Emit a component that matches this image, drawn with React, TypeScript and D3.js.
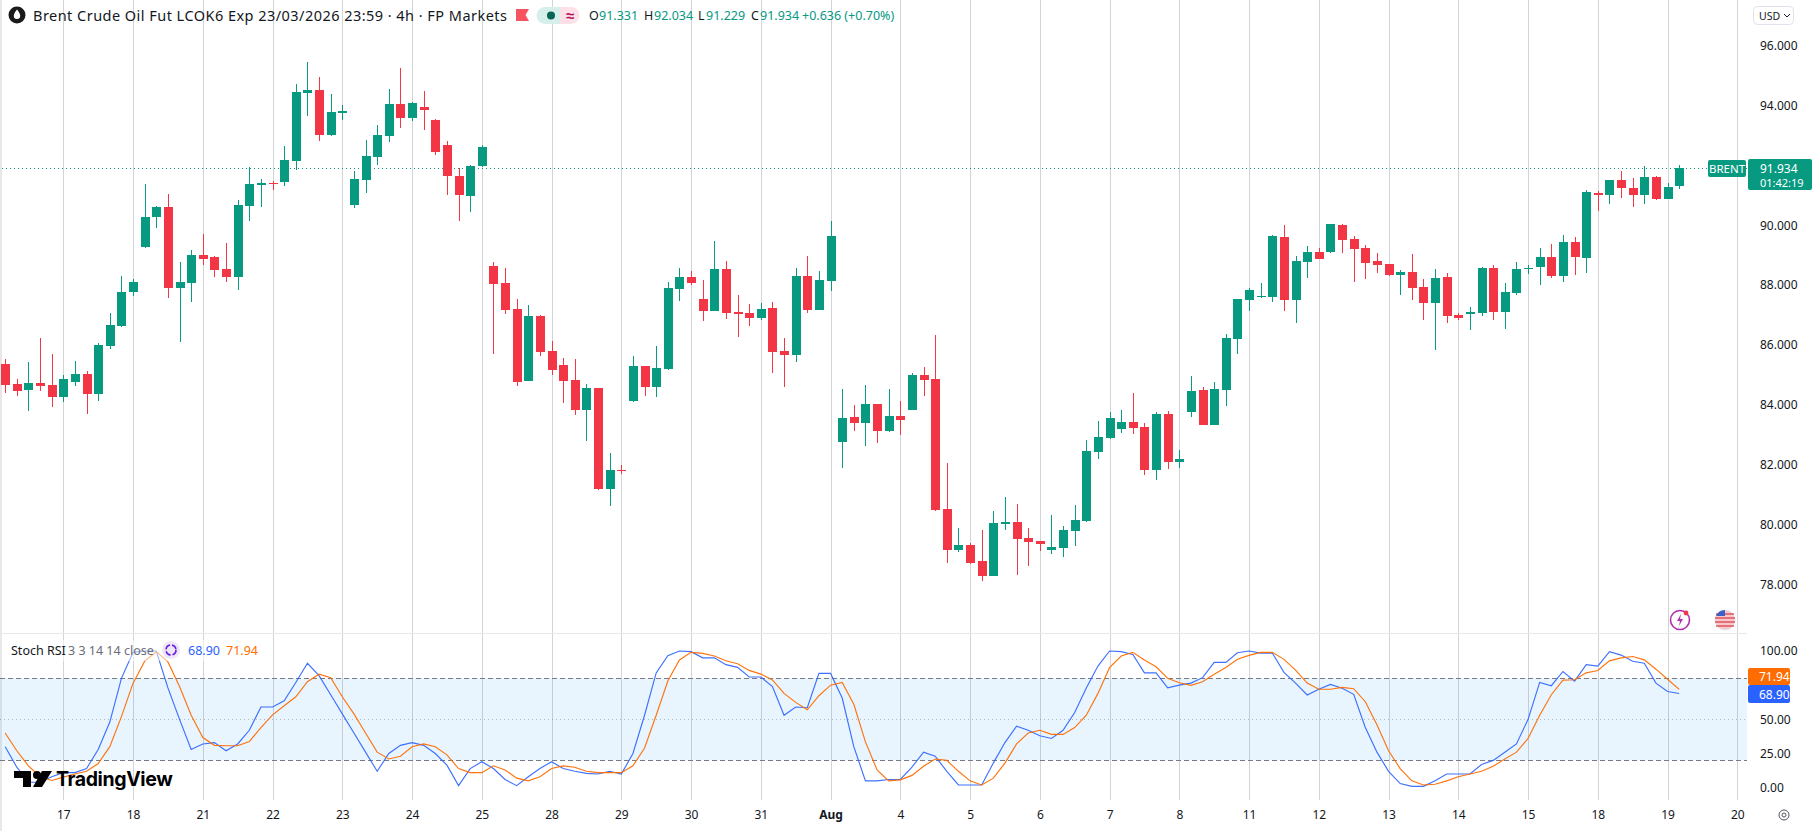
import * as d3 from 'd3';
import { useEffect, useRef } from 'react';

const WIDTH = 1818;
const HEIGHT = 831;

const opens = [
  85.40, 84.73, 84.53, 84.77, 84.70, 84.30, 84.80, 85.07, 84.40, 86.00,
  86.67, 87.80, 89.31, 90.31, 90.64, 87.94, 88.10, 89.04, 88.97, 88.57,
  88.31, 90.68, 91.38, 91.44, 91.48, 92.18, 94.45, 94.55, 93.05, 93.78,
  90.71, 91.54, 92.31, 93.01, 94.08, 93.61, 93.98, 93.55, 92.71, 91.68,
  91.01, 92.01, 88.67, 88.10, 87.24, 84.83, 87.00, 85.83, 85.37, 84.87,
  83.86, 84.60, 81.23, 81.86, 84.16, 85.33, 84.63, 85.23, 87.90, 88.30,
  87.57, 87.17, 88.57, 87.14, 87.10, 86.94, 87.27, 85.83, 85.70, 88.34,
  87.20, 88.17, 82.80, 83.63, 83.43, 84.06, 83.16, 83.66, 83.86, 85.03,
  84.90, 80.56, 79.19, 79.36, 78.82, 78.32, 80.06, 80.12, 79.59, 79.49,
  79.19, 79.26, 79.82, 80.16, 82.46, 82.93, 83.23, 83.46, 83.30, 81.86,
  83.73, 82.13, 83.80, 84.53, 83.36, 84.53, 86.23, 87.54, 87.64, 87.64,
  89.64, 87.54, 88.81, 89.14, 89.14, 90.04, 89.57, 89.27, 88.84, 88.74,
  88.37, 88.47, 87.97, 87.44, 88.30, 87.04, 87.07, 87.10, 88.60, 87.14,
  87.77, 88.57, 88.64, 88.97, 88.34, 89.47, 88.94, 91.11, 91.04, 91.54,
  91.28, 91.04, 91.64, 90.91, 91.331,
];
const highs = [
  85.57, 84.90, 85.47, 86.27, 85.73, 85.03, 85.50, 85.17, 86.10, 87.10,
  88.34, 88.24, 91.41, 90.68, 91.08, 88.81, 89.21, 89.74, 89.01, 89.44,
  90.88, 91.98, 91.58, 91.51, 92.68, 94.75, 95.48, 94.98, 94.42, 94.05,
  91.84, 92.88, 93.38, 94.58, 95.28, 94.15, 94.52, 93.58, 92.85, 91.94,
  92.04, 92.71, 88.80, 88.60, 87.57, 87.37, 87.04, 86.17, 85.60, 85.57,
  84.73, 84.60, 82.43, 82.03, 85.67, 85.33, 86.00, 88.14, 88.60, 88.50,
  88.20, 89.51, 88.84, 87.70, 87.40, 87.44, 87.47, 86.27, 88.60, 89.01,
  88.50, 90.17, 84.56, 84.03, 84.70, 84.06, 84.56, 84.16, 85.10, 85.30,
  86.37, 82.09, 79.92, 79.42, 79.86, 80.49, 80.96, 80.72, 79.92, 79.49,
  80.36, 79.99, 80.69, 82.86, 83.50, 83.80, 83.86, 84.43, 83.43, 83.80,
  83.83, 82.53, 85.00, 84.63, 84.80, 86.40, 87.57, 87.94, 88.10, 89.71,
  90.04, 89.01, 89.34, 89.27, 90.07, 90.07, 89.67, 89.37, 89.11, 88.74,
  88.54, 89.07, 88.24, 88.57, 88.44, 87.10, 87.30, 88.64, 88.71, 88.10,
  88.81, 88.71, 89.27, 89.41, 89.71, 89.64, 91.21, 91.18, 91.54, 91.84,
  91.61, 92.01, 91.68, 91.44, 92.034,
];
const lows = [
  84.43, 84.33, 83.83, 84.50, 83.96, 84.13, 84.67, 83.73, 84.16, 85.90,
  86.64, 87.67, 89.27, 89.94, 87.60, 86.13, 87.47, 88.71, 88.31, 88.14,
  87.87, 90.17, 90.64, 91.21, 91.34, 91.88, 93.68, 92.85, 93.01, 93.55,
  90.61, 91.11, 92.04, 92.81, 93.28, 93.51, 93.21, 92.38, 91.04, 90.17,
  90.47, 91.98, 85.73, 87.07, 84.67, 84.83, 85.67, 85.03, 84.10, 83.70,
  82.83, 81.19, 80.66, 81.73, 84.13, 84.33, 84.30, 85.20, 87.50, 88.04,
  86.84, 87.17, 86.90, 86.30, 86.67, 86.87, 85.10, 84.63, 85.47, 87.10,
  87.20, 87.84, 81.93, 83.16, 82.66, 82.76, 83.13, 83.03, 83.86, 84.33,
  80.49, 78.75, 79.12, 78.72, 78.15, 78.32, 79.86, 78.35, 78.65, 79.16,
  79.06, 78.96, 79.32, 80.12, 82.23, 82.90, 83.10, 83.06, 81.69, 81.53,
  81.89, 81.93, 83.63, 83.36, 83.36, 84.00, 85.73, 87.17, 87.60, 87.47,
  87.17, 86.77, 88.27, 88.91, 89.11, 89.11, 88.14, 88.24, 88.44, 88.34,
  87.70, 87.54, 86.87, 85.87, 86.77, 86.87, 86.53, 87.00, 86.87, 86.57,
  87.70, 88.40, 88.04, 88.27, 88.14, 88.37, 88.44, 90.51, 90.74, 90.94,
  90.64, 90.74, 90.88, 90.91, 91.229,
];
const closes = [
  84.70, 84.50, 84.77, 84.67, 84.30, 84.90, 85.07, 84.40, 86.03, 86.70,
  87.80, 88.14, 90.31, 90.64, 87.94, 88.14, 89.04, 88.91, 88.54, 88.31,
  90.71, 91.41, 91.44, 91.41, 92.21, 94.48, 94.55, 93.05, 93.81, 93.85,
  91.58, 92.34, 93.05, 94.08, 93.61, 94.11, 93.88, 92.48, 91.68, 91.04,
  92.01, 92.64, 88.07, 87.20, 84.80, 87.00, 85.80, 85.20, 84.83, 83.86,
  84.60, 81.23, 81.86, 81.83, 85.33, 84.63, 85.27, 87.94, 88.30, 88.10,
  87.17, 88.57, 87.10, 87.07, 86.94, 87.24, 85.80, 85.70, 88.34, 87.20,
  88.20, 89.67, 83.60, 83.43, 84.06, 83.16, 83.66, 83.53, 85.03, 84.87,
  80.52, 79.19, 79.36, 78.75, 78.32, 80.09, 80.12, 79.56, 79.46, 79.39,
  79.29, 79.86, 80.19, 82.49, 82.96, 83.60, 83.46, 83.26, 81.86, 83.73,
  82.13, 82.23, 84.50, 83.36, 84.56, 86.27, 87.57, 87.87, 87.67, 89.67,
  87.54, 88.84, 89.14, 88.91, 90.07, 89.54, 89.24, 88.77, 88.71, 88.37,
  88.47, 87.94, 87.44, 88.27, 87.00, 86.94, 87.14, 88.60, 87.14, 87.80,
  88.57, 88.60, 88.97, 88.34, 89.47, 88.97, 91.14, 91.04, 91.54, 91.28,
  91.04, 91.64, 90.91, 91.31, 91.934,
];

const stochK = [
  30, 15, 4, 4, 8, 11, 11, 14, 28, 48,
  80, 99, 100, 100, 73, 50, 28, 32, 33, 27,
  32, 42, 59, 59, 63.6, 77, 91, 82, 68, 54,
  40, 26, 12, 25, 31, 33, 31, 25, 16.5, 1.5,
  14, 19, 14, 6, 1.5, 8, 14, 19, 14, 12,
  10.5, 10, 12, 10, 25, 53, 84, 96.5, 100, 99.5,
  95, 95, 90, 88, 81, 81, 74, 53, 59, 58.5,
  83.6, 83.6, 65.6, 30, 5, 5, 6, 6, 15, 26,
  23, 12, 2, 2, 2, 18, 33, 45, 42, 38,
  36, 42, 55, 73, 89, 100, 99.5, 97.5, 84, 84,
  73, 75, 76.5, 80.5, 91.7, 91.7, 98.7, 100, 98.5, 98.5,
  84.4, 76.5, 67.8, 72, 75.6, 72.7, 68.3, 44, 26, 12,
  3, 1, 1, 5, 10, 10, 10, 17, 20, 26,
  32, 50, 77, 74.6, 85, 78, 90, 89, 99.5, 97,
  92.5, 91, 76.5, 70.4, 68.9,
];
const stochD = [
  40, 27, 16, 8, 5.3, 7.7, 10, 12, 17.7, 30,
  52, 76.5, 92.6, 99.5, 92, 74, 53, 36.7, 31, 30.7,
  30.7, 33.7, 44, 53.3, 60, 66.5, 77.5, 83, 80.4, 66.5,
  54, 40, 26, 21, 23, 30, 32, 30, 24, 14,
  11, 11, 16, 13, 7, 5, 8, 14, 16, 15,
  12, 11, 11, 11, 16, 29, 53, 78, 93.4, 99,
  98.3, 96.3, 92.9, 90.7, 85.8, 83.1, 78.8, 69, 62.4, 57,
  67.3, 75, 77, 61, 33.5, 13, 5, 5.7, 9, 15.7,
  21, 20, 12, 5, 2, 7, 18, 32, 40, 42,
  39, 39, 44, 53, 69, 87.8, 96.3, 99, 93.4, 88.5,
  80, 76.8, 74.9, 77.5, 83, 88, 94, 96.8, 99, 99,
  93.9, 86, 76.5, 72, 72, 73.4, 72.4, 62.9, 46, 27,
  14, 5, 2, 2.5, 5, 8, 10, 12, 15.7, 21,
  26, 36, 53, 68, 78.7, 79, 84, 85.7, 92.8, 95,
  96, 93.5, 86.7, 79.3, 71.94,
];

const dayLabels = ['17', '18', '21', '22', '23', '24', '25', '28', '29', '30', '31', 'Aug', '4', '5', '6', '7', '8', '11', '12', '13', '14', '15', '18', '19', '20'];
// 92.000 and 75.00 sit behind the value tags in the reference
const priceTicks = [96, 94, 90, 88, 86, 84, 82, 80, 78];
const stochTicks = [100, 50, 25, 0];
const lastPrice = 91.934;

const GREEN = '#089981';
const RED = '#F23645';
const BLUE = '#2962FF';
const ORANGE = '#FF6D00';
const TEXT = '#131722';
const FONT = '"Noto Sans", sans-serif';

export default function App() {
  const svgRef = useRef<SVGSVGElement>(null);

  useEffect(() => {
    if (!svgRef.current) return;
    document.body.style.margin = '0';

    const svg = d3.select(svgRef.current);
    svg.selectAll('*').remove();

    const chartRight = 1747;
    const paneTop = 633;
    const paneBottom = 800;

    const x = d3.scaleLinear().domain([0, 144]).range([5.175, 1679.2]);
    const y = d3.scaleLinear().domain([78, 96]).range([585.6, 46.5]);
    const yStoch = d3.scaleLinear().domain([0, 100]).range([787.7, 651]);
    const px = (i: number) => Math.round(x(i));
    const dayIndex = dayLabels.map((_, k) => 5 + k * 6);

    svg.append('rect').attr('width', WIDTH).attr('height', HEIGHT).attr('fill', '#ffffff');
    svg.append('rect').attr('width', 2).attr('height', HEIGHT).attr('fill', '#e8e8e8');

    // stoch band, under the grid
    svg.append('rect')
      .attr('x', 0)
      .attr('y', yStoch(80))
      .attr('width', chartRight)
      .attr('height', yStoch(20) - yStoch(80))
      .attr('fill', '#2196F3')
      .attr('fill-opacity', 0.1);

    // day grid
    svg.append('g')
      .selectAll('rect')
      .data(dayIndex)
      .join('rect')
      .attr('x', d => px(d))
      .attr('y', 0)
      .attr('width', 1)
      .attr('height', paneBottom)
      .attr('fill', '#787B86')
      .attr('fill-opacity', 0.33);

    // pane border
    svg.append('rect').attr('x', 0).attr('y', paneTop).attr('width', chartRight).attr('height', 1).attr('fill', '#e6e8ee');

    // band limits
    [80, 20].forEach(v => {
      svg.append('line')
        .attr('x1', 0).attr('x2', chartRight)
        .attr('y1', Math.round(yStoch(v)) + 0.5).attr('y2', Math.round(yStoch(v)) + 0.5)
        .attr('stroke', '#787B86')
        .attr('stroke-dasharray', '5 3');
    });
    svg.append('line')
      .attr('x1', 0).attr('x2', chartRight)
      .attr('y1', Math.round(yStoch(50)) + 0.5).attr('y2', Math.round(yStoch(50)) + 0.5)
      .attr('stroke', '#787B86')
      .attr('stroke-opacity', 0.5)
      .attr('stroke-dasharray', '1 3');

    // last price line
    svg.append('line')
      .attr('x1', 2).attr('x2', chartRight)
      .attr('y1', Math.round(y(lastPrice)) + 0.5).attr('y2', Math.round(y(lastPrice)) + 0.5)
      .attr('stroke', GREEN)
      .attr('shape-rendering', 'crispEdges')
      .attr('stroke-dasharray', '1 3');

    // candles
    const candles = opens.map((o, i) => ({ i, o, h: highs[i], l: lows[i], c: closes[i] }));
    const candleG = svg.append('g').attr('shape-rendering', 'crispEdges');
    candleG.selectAll('.wick')
      .data(candles)
      .join('rect')
      .attr('class', 'wick')
      .attr('x', d => px(d.i))
      .attr('y', d => Math.round(y(d.h)))
      .attr('width', 1)
      .attr('height', d => Math.max(1, Math.round(y(d.l)) - Math.round(y(d.h))))
      .attr('fill', d => (d.c >= d.o ? GREEN : RED));
    candleG.selectAll('.body')
      .data(candles)
      .join('rect')
      .attr('class', 'body')
      .attr('x', d => px(d.i) - 4)
      .attr('y', d => Math.round(y(Math.max(d.o, d.c))))
      .attr('width', 9)
      .attr('height', d => Math.max(1, Math.round(y(Math.min(d.o, d.c))) - Math.round(y(Math.max(d.o, d.c)))))
      .attr('fill', d => (d.c >= d.o ? GREEN : RED));

    // stoch lines
    const lineOf = (vals: number[]) =>
      d3.line<number>().x((_, i) => x(i)).y(d => yStoch(d))(vals) ?? '';
    svg.append('path').attr('d', lineOf(stochK)).attr('fill', 'none').attr('stroke', BLUE).attr('stroke-width', 1.15).attr('stroke-opacity', 0.9);
    svg.append('path').attr('d', lineOf(stochD)).attr('fill', 'none').attr('stroke', ORANGE).attr('stroke-width', 1.15).attr('stroke-opacity', 0.95);

    // price axis
    const priceAxis = svg.append('g')
      .attr('transform', `translate(${chartRight + 13},-1)`)
      .call(d3.axisRight(y).tickValues(priceTicks).tickFormat(d3.format('.3f') as any).tickSize(0).tickPadding(0));
    priceAxis.select('.domain').remove();
    priceAxis.selectAll('text').attr('fill', TEXT).style('font', `12px ${FONT}`);

    const stochAxis = svg.append('g')
      .attr('transform', `translate(${chartRight + 13},0)`)
      .call(d3.axisRight(yStoch).tickValues(stochTicks).tickFormat(d3.format('.2f') as any).tickSize(0).tickPadding(0));
    stochAxis.select('.domain').remove();
    stochAxis.selectAll('text').attr('fill', TEXT).style('font', `12px ${FONT}`);

    // time axis
    const timeAxis = svg.append('g')
      .attr('transform', `translate(0,807)`)
      .call(d3.axisBottom(x).tickValues(dayIndex).tickFormat((_, k) => dayLabels[k]).tickSize(0).tickPadding(3));
    timeAxis.select('.domain').remove();
    timeAxis.selectAll('text')
      .attr('fill', TEXT)
      .style('font', `12px ${FONT}`)
      .style('font-weight', (_, k) => (dayLabels[k] === 'Aug' ? '700' : '400'));

    const text = (
      tx: number, ty: number, s: string, fill: string, size = 13, weight = 400, anchor = 'start'
    ) =>
      svg.append('text')
        .attr('x', tx).attr('y', ty)
        .attr('dominant-baseline', 'central')
        .attr('text-anchor', anchor)
        .attr('fill', fill)
        .style('font', `${weight} ${size}px ${FONT}`)
        .text(s);

    // USD selector
    svg.append('rect').attr('x', 1753.5).attr('y', 6.5).attr('width', 40).attr('height', 18).attr('rx', 4).attr('fill', '#fff').attr('stroke', '#e0e3eb');
    text(1759, 16, 'USD', TEXT, 10.5);
    svg.append('path').attr('d', 'M1784 14l3 3 3-3').attr('fill', 'none').attr('stroke', TEXT);

    // last price tags
    const yLast = Math.round(y(lastPrice));
    svg.append('rect').attr('x', 1708).attr('y', yLast - 8).attr('width', 38).attr('height', 17).attr('rx', 2).attr('fill', GREEN);
    text(1727, yLast + 0.5, 'BRENT', '#fff', 11.5, 400, 'middle');
    svg.append('rect').attr('x', 1748).attr('y', yLast - 9).attr('width', 64).attr('height', 31).attr('rx', 2).attr('fill', GREEN);
    text(1760, yLast + 0.5, d3.format('.3f')(lastPrice), '#fff', 12);
    text(1760, yLast + 14, '01:42:19', '#fff', 11);

    // stoch tags
    svg.append('rect').attr('x', 1748).attr('y', 668).attr('width', 42).attr('height', 17).attr('rx', 2).attr('fill', ORANGE);
    text(1759, 676.5, d3.format('.2f')(stochD[144]), '#fff', 12);
    svg.append('rect').attr('x', 1748).attr('y', 685).attr('width', 42).attr('height', 18).attr('rx', 2).attr('fill', BLUE);
    text(1759, 694, d3.format('.2f')(stochK[144]), '#fff', 12);

    // header legend
    svg.append('circle').attr('cx', 17).attr('cy', 15).attr('r', 8.5).attr('fill', '#1a1a1a');
    svg.append('path').attr('d', 'M17 9.500c2 2.600 3.200 4.400 3.200 6.200a3.200 3.200 0 0 1-6.400 0c0-1.800 1.200-3.600 3.200-6.200z').attr('fill', '#fff');
    text(33, 15, 'Brent Crude Oil Fut LCOK6 Exp 23/03/2026 23:59 · 4h · FP Markets', TEXT, 14.5)
      .attr('textLength', 474)
      .attr('lengthAdjust', 'spacing');
    svg.append('path').attr('d', 'M516 9h13l-3.500 6 3.500 6h-13z').attr('fill', '#F7525F');
    svg.append('path').attr('d', 'M545 7h15v17h-15a8.500 8.500 0 0 1 0-17z').attr('fill', '#d6efea');
    svg.append('path').attr('d', 'M560 7h11a8.500 8.500 0 0 1 0 17h-11z').attr('fill', '#fde0e8');
    svg.append('circle').attr('cx', 551).attr('cy', 15.5).attr('r', 4).attr('fill', '#056656');
    text(570, 15, '≈', '#b5105c', 15, 700, 'middle');

    const ohlc: [string, number, number, string][] = [
      ['O', 589, 599, '91.331'],
      ['H', 644, 654, '92.034'],
      ['L', 698, 706, '91.229'],
      ['C', 751, 760, '91.934'],
    ];
    ohlc.forEach(([k, kx, vx, v]) => {
      text(kx, 15, k, TEXT, 12.5);
      text(vx, 15, v, GREEN, 12.5);
    });
    text(802, 15, '+0.636 (+0.70%)', GREEN, 12.5);

    // stoch legend
    svg.append('rect').attr('x', 8).attr('y', 640).attr('width', 250).attr('height', 21).attr('fill', '#fff').attr('fill-opacity', 0.5);
    text(11, 650, 'Stoch RSI', TEXT, 12.5);
    text(68, 650, '3 3 14 14 close', '#6a6d78', 12.5);
    svg.append('circle').attr('cx', 171).attr('cy', 650).attr('r', 9).attr('fill', '#ece6f7');
    svg.append('circle').attr('cx', 171).attr('cy', 650).attr('r', 5).attr('fill', 'none').attr('stroke', '#6a1de0').attr('stroke-width', 1.6).attr('stroke-dasharray', '6 2');
    text(188, 650, d3.format('.2f')(stochK[144]), BLUE, 12.5);
    text(226, 650, d3.format('.2f')(stochD[144]), ORANGE, 12.5);

    // TradingView mark
    svg.append('path').attr('d', 'M14 771h17v16h-8v-9h-9z').attr('fill', '#000');
    svg.append('circle').attr('cx', 37).attr('cy', 775).attr('r', 4).attr('fill', '#000');
    svg.append('path').attr('d', 'M33 787l9-16h10l-10 16z').attr('fill', '#000');
    svg.append('text')
      .attr('x', 56).attr('y', 779)
      .attr('dominant-baseline', 'central')
      .attr('fill', '#000')
      .style('font', '700 19.500px Inter, sans-serif')
      .style('letter-spacing', '-0.4px')
      .text('TradingView');

    // event icons
    svg.append('circle').attr('cx', 1680).attr('cy', 620).attr('r', 9.5).attr('fill', '#fff').attr('stroke', '#b12fb0').attr('stroke-width', 1.6);
    svg.append('path').attr('d', 'M1681 614l-4 7h3l-1 5 4-7h-3z').attr('fill', '#b12fb0');
    svg.append('circle').attr('cx', 1686).attr('cy', 613).attr('r', 2.4).attr('fill', '#F23645');
    svg.append('circle').attr('cx', 1725).attr('cy', 620).attr('r', 10).attr('fill', '#f6c7cb').attr('stroke', '#e2e4ea');
    svg.append('path').attr('d', 'M1716 614h18M1715 618h20M1715 622h20M1716 626h18').attr('stroke', '#e05561').attr('stroke-width', 1.6);
    svg.append('path').attr('d', 'M1725 610a10 10 0 0 0-9 6h9z').attr('fill', '#3b5fc4');

    // auto scale icon
    svg.append('circle').attr('cx', 1784).attr('cy', 815).attr('r', 5).attr('fill', 'none').attr('stroke', '#50535e');
    svg.append('circle').attr('cx', 1784).attr('cy', 815).attr('r', 2).attr('fill', 'none').attr('stroke', '#50535e');
  }, []);

  return <svg ref={svgRef} width={WIDTH} height={HEIGHT} style={{ display: 'block', position: 'fixed', left: 0, top: 0 }} />;
}
